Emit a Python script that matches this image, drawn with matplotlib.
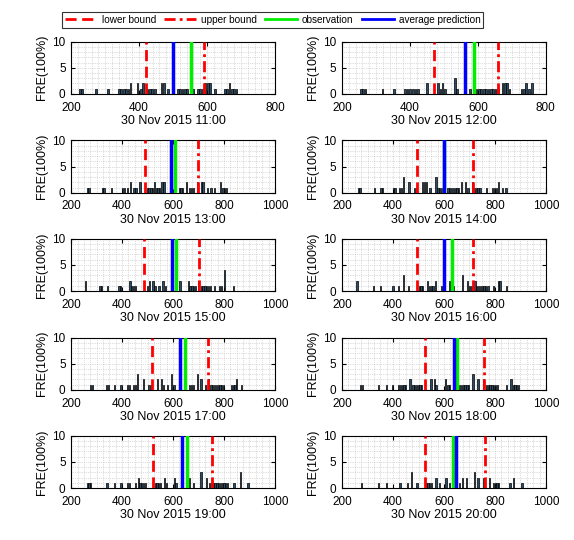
import matplotlib
matplotlib.use('Agg')
import matplotlib.pyplot as plt
from matplotlib.ticker import MultipleLocator
from matplotlib.lines import Line2D

plt.rcParams['font.family'] = ['Liberation Sans', 'DejaVu Sans']

titles = ['30 Nov 2015 11:00', '30 Nov 2015 12:00', '30 Nov 2015 13:00', '30 Nov 2015 14:00',
          '30 Nov 2015 15:00', '30 Nov 2015 16:00', '30 Nov 2015 17:00', '30 Nov 2015 18:00',
          '30 Nov 2015 19:00', '30 Nov 2015 20:00']
xmax = [800, 800, 1000, 1000, 1000, 1000, 1000, 1000, 1000, 1000]

lower = [420, 470, 489, 496, 486, 494, 516, 525, 521, 525]
upper = [590, 660, 697, 714, 701, 714, 739, 756, 752, 760]
obs = [552, 588, 607, 602, 610, 632, 647, 651, 655, 637]
avg = [500, 562, 591, 602, 594, 600, 627, 641, 637, 648]

bins_1100 = [226, 232, 273, 308, 340, 347, 355, 362, 369, 375, 395, 405, 412, 425, 432, 439, 446,
             466, 473, 485, 514, 521, 528, 535, 542, 558, 573, 580, 587, 595, 602, 609, 623,
             652, 659, 666, 673, 680, 687]
freq_1100 = [1, 1, 1, 1, 1, 1, 1, 1, 1, 2, 2, 1, 2, 1, 1, 1, 1,
             2, 2, 1, 1, 1, 1, 1, 1, 1, 1, 1, 1, 2, 2, 2, 1,
             1, 1, 2, 1, 1, 1]

bins_1200 = [255, 262, 269, 319, 353, 386, 393, 400, 409, 416, 423, 449, 483, 490, 496, 504,
             532, 538, 576, 596, 603, 610, 617, 624, 631, 638, 645, 652, 659, 672, 679, 686,
             693, 728, 735, 741, 750, 759]
freq_1200 = [1, 1, 1, 1, 1, 1, 1, 1, 1, 1, 1, 2, 2, 1, 2, 1,
             3, 1, 1, 1, 1, 1, 1, 1, 1, 1, 1, 1, 1, 2, 2, 2,
             1, 1, 1, 2, 1, 2]

bins_1300 = [263, 270, 322, 329, 358, 401, 408, 420, 433, 447, 454, 470, 499, 506, 513, 520,
             527, 534, 541, 548, 557, 564, 624, 631, 638, 653, 665, 672, 679, 697, 711, 718,
             736, 749, 763, 786, 796, 803, 810]
freq_1300 = [1, 1, 1, 1, 1, 1, 1, 1, 2, 1, 1, 2, 1, 1, 1, 1,
             2, 1, 1, 1, 2, 2, 1, 1, 1, 2, 1, 1, 1, 2, 2, 2,
             1, 1, 1, 2, 1, 1, 1]

bins_1400 = [263, 270, 328, 353, 360, 401, 408, 425, 432, 441, 463, 484, 491, 517, 524, 531,
             545, 569, 576, 583, 590, 616, 623, 630, 637, 644, 651, 658, 668, 685, 694, 711,
             720, 727, 734, 741, 767, 791, 798, 806, 815, 830, 843]
freq_1400 = [1, 1, 1, 1, 1, 1, 1, 1, 1, 3, 2, 1, 1, 2, 2, 2,
             1, 3, 1, 1, 1, 1, 1, 1, 1, 1, 1, 1, 2, 2, 1, 2,
             1, 1, 1, 1, 1, 1, 1, 1, 2, 1, 1]

bins_1500 = [255, 313, 320, 344, 388, 395, 431, 438, 445, 452, 499, 508, 521, 529, 545, 561,
             569, 627, 660, 667, 674, 681, 688, 699, 711, 718, 725, 732, 739, 746, 763, 782,
             789, 802, 838]
freq_1500 = [2, 1, 1, 1, 1, 1, 2, 1, 1, 1, 1, 2, 2, 1, 1, 2,
             1, 2, 2, 1, 1, 1, 1, 2, 1, 1, 1, 1, 1, 1, 1, 1,
             1, 4, 1]

bins_1600 = [259, 323, 352, 400, 421, 440, 461, 503, 510, 517, 536, 543, 550, 557, 566, 589,
             622, 635, 672, 691, 701, 708, 715, 722, 729, 736, 743, 750, 757, 764, 773, 793,
             813, 820, 846]
freq_1600 = [2, 1, 1, 1, 1, 3, 1, 1, 1, 1, 2, 1, 1, 1, 2, 1,
             2, 1, 3, 2, 1, 1, 1, 2, 1, 1, 1, 1, 1, 1, 1, 1,
             2, 2, 1]

bins_1700 = [276, 283, 339, 346, 371, 396, 421, 428, 445, 452, 459, 483, 506, 516, 539, 556,
             562, 578, 595, 604, 665, 672, 679, 697, 710, 726, 739, 749, 756, 763, 770, 777,
             784, 791, 798, 829, 836, 843, 850, 868]
freq_1700 = [1, 1, 1, 1, 1, 1, 1, 1, 1, 1, 3, 2, 1, 1, 2, 2,
             1, 1, 3, 1, 1, 1, 1, 3, 2, 1, 2, 1, 1, 1, 1, 1,
             1, 1, 1, 1, 1, 1, 2, 1]

bins_1800 = [273, 280, 342, 374, 398, 422, 429, 436, 443, 450, 467, 478, 485, 492, 499, 506,
             513, 549, 562, 569, 606, 616, 623, 662, 669, 676, 683, 690, 697, 714, 734, 756,
             767, 774, 781, 788, 795, 802, 809, 846, 863, 872, 879, 886, 893]
freq_1800 = [1, 1, 1, 1, 1, 1, 1, 1, 1, 1, 2, 1, 1, 1, 1, 1,
             1, 2, 2, 1, 2, 1, 1, 1, 1, 1, 1, 1, 1, 3, 2, 2,
             1, 1, 1, 1, 1, 1, 1, 1, 2, 1, 1, 1, 1]

bins_1900 = [263, 270, 277, 341, 371, 396, 421, 428, 453, 463, 470, 477, 484, 491, 530, 537,
             544, 551, 565, 575, 605, 612, 664, 681, 710, 732, 744, 751, 758, 765, 772, 779,
             786, 793, 800, 807, 814, 839, 865, 894]
freq_1900 = [1, 1, 1, 1, 1, 1, 1, 1, 1, 2, 1, 1, 1, 1, 1, 1,
             1, 1, 2, 1, 2, 1, 2, 1, 3, 2, 1, 1, 1, 1, 1, 1,
             1, 1, 1, 1, 1, 1, 3, 1]

bins_2000 = [276, 342, 374, 427, 457, 473, 494, 530, 537, 544, 551, 569, 582, 608, 622, 661,
             672, 688, 720, 734, 754, 780, 794, 801, 808, 815, 859, 872, 906]
freq_2000 = [1, 1, 1, 1, 1, 3, 1, 1, 1, 1, 1, 2, 1, 2, 1, 1,
             2, 2, 3, 2, 2, 2, 1, 1, 1, 1, 1, 2, 1]

bins = [bins_1100, bins_1200, bins_1300, bins_1400, bins_1500,
        bins_1600, bins_1700, bins_1800, bins_1900, bins_2000]
freqs = [freq_1100, freq_1200, freq_1300, freq_1400, freq_1500,
         freq_1600, freq_1700, freq_1800, freq_1900, freq_2000]

fig = plt.figure(figsize=(5.74, 5.40), dpi=100)

lefts = [0.124, 0.596]
width = 0.355
bottoms = [0.826, 0.643, 0.461, 0.278, 0.096]
height = 0.097

for i in range(10):
    row, col = divmod(i, 2)
    ax = fig.add_axes([lefts[col], bottoms[row], width, height])
    ax.bar(bins[i], freqs[i], width=5, color='#2b4d68', edgecolor='black', linewidth=0.5, zorder=2)
    ax.axvline(lower[i], color='red', linestyle=(0, (4, 2)), linewidth=2, zorder=3)
    ax.axvline(upper[i], color='red', linestyle=(0, (4, 1.5, 1, 1.5)), linewidth=2, zorder=3)
    ax.axvline(obs[i], color='#00ee00', linewidth=2.5, zorder=3)
    ax.axvline(avg[i], color='blue', linewidth=2.5, zorder=4)
    ax.set_xlim(200, xmax[i])
    ax.set_ylim(0, 10)
    ax.xaxis.set_major_locator(MultipleLocator(200))
    ax.xaxis.set_minor_locator(MultipleLocator(20 if xmax[i] == 800 else 25))
    ax.yaxis.set_major_locator(MultipleLocator(5))
    ax.yaxis.set_minor_locator(MultipleLocator(1))
    ax.grid(which='both', color='#bbbbbb', linestyle=':', linewidth=0.5, zorder=0)
    ax.set_axisbelow(True)
    ax.tick_params(which='both', direction='in', top=True, right=True, labelsize=8.5)
    ax.tick_params(axis='x', pad=5.5)
    ax.tick_params(axis='y', pad=4)
    ax.tick_params(which='minor', length=0)
    ax.tick_params(which='major', length=3)
    for s in ax.spines.values():
        s.set_linewidth(0.8)
    ax.set_xlabel(titles[i], fontsize=9, labelpad=1)
    ax.set_ylabel('FRE(100%)', fontsize=9, labelpad=3)

handles = [Line2D([], [], color='red', linestyle=(0, (4, 2)), linewidth=2),
           Line2D([], [], color='red', linestyle=(0, (4, 1.5, 1, 1.5)), linewidth=2),
           Line2D([], [], color='#00ee00', linewidth=2),
           Line2D([], [], color='blue', linewidth=2)]
leg = fig.legend(handles, ['lower bound', 'upper bound', 'observation', 'average prediction'],
                 loc='center', bbox_to_anchor=(0.475, 0.963), ncol=4, fontsize=7.2,
                 frameon=True, fancybox=False, edgecolor='black', handlelength=3.2,
                 columnspacing=0.8, handletextpad=0.5, borderpad=0.3)
leg.get_frame().set_linewidth(0.8)

fig.savefig('out.png', dpi=100)
